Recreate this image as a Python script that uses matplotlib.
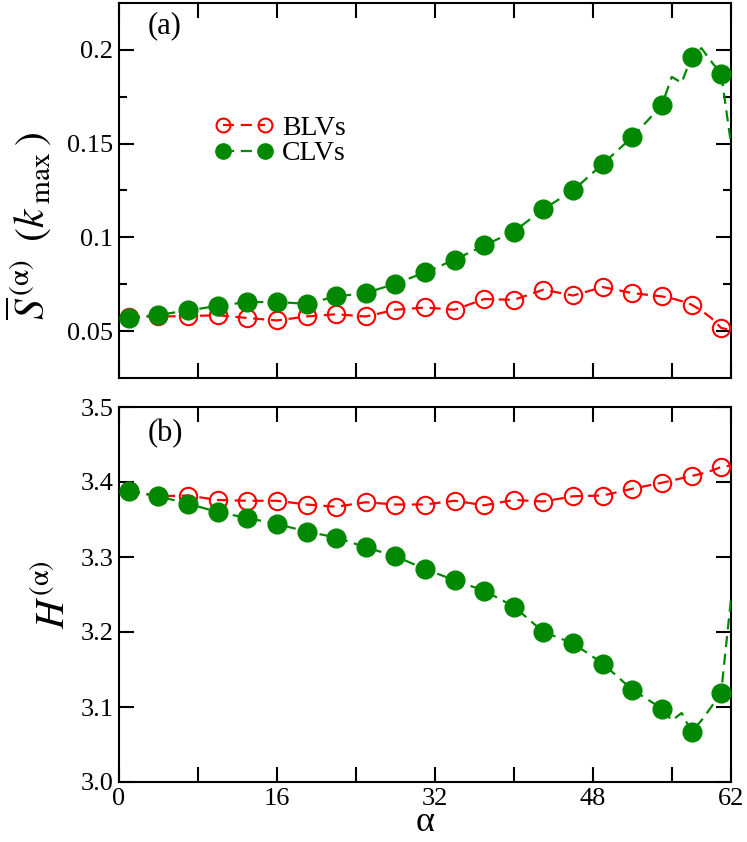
import numpy as np
import matplotlib
matplotlib.use("Agg")
import matplotlib.pyplot as plt

# -------------------------------------------------------
# Data
# -------------------------------------------------------

# marker positions (every third alpha)
alpha_m = [1, 4, 7, 10, 13, 16, 19, 22, 25, 28, 31, 34, 37, 40, 43, 46, 49, 52, 55, 58, 61]

# line positions: marker alphas plus the dense tail
alpha_line = [1, 4, 7, 10, 13, 16, 19, 22, 25, 28, 31, 34, 37, 40, 43, 46, 49, 52, 55,
              56, 57, 58, 59, 60, 61, 62]

# (a) S(k_max)
s_blv = [0.0575, 0.0578, 0.0580, 0.0585, 0.0570, 0.0557, 0.0578, 0.0590, 0.0578, 0.0614,
         0.0626, 0.0614, 0.0671, 0.0667, 0.0721, 0.0690, 0.0735, 0.0703, 0.0685,
         0.0675, 0.0660, 0.0641, 0.0610, 0.0570, 0.0517, 0.0505]
s_clv = [0.0570, 0.0587, 0.0610, 0.0635, 0.0655, 0.0655, 0.0646, 0.0685, 0.0703, 0.0753,
         0.0813, 0.0881, 0.0957, 0.1031, 0.1151, 0.1250, 0.1392, 0.1535, 0.1705,
         0.1856, 0.1825, 0.1964, 0.2009, 0.1938, 0.1872, 0.1500]

# (b) H
h_blv = [3.388, 3.381, 3.382, 3.376, 3.375, 3.375, 3.370, 3.367, 3.373, 3.370,
         3.370, 3.375, 3.369, 3.376, 3.374, 3.381, 3.382, 3.391, 3.399,
         3.402, 3.405, 3.408, 3.411, 3.415, 3.420, 3.422]
h_clv = [3.388, 3.381, 3.371, 3.360, 3.352, 3.344, 3.334, 3.326, 3.313, 3.301,
         3.284, 3.269, 3.255, 3.234, 3.200, 3.185, 3.158, 3.123, 3.098,
         3.082, 3.092, 3.067, 3.082, 3.100, 3.119, 3.244]

x_ticks = [0, 8, 16, 24, 32, 40, 48, 56, 62]
x_labels = ["0", "", "16", "", "32", "", "48", "", "62"]

RED = "#ff0000"
GREEN = "#008800"

# -------------------------------------------------------
# Style
# -------------------------------------------------------

plt.rcParams["font.family"] = ["Liberation Serif", "DejaVu Serif"]
plt.rcParams["mathtext.fontset"] = "stix"

fig = plt.figure(figsize=(7.47, 8.42), dpi=100)
ax1 = fig.add_axes([119 / 747, 1 - 378 / 842, 612 / 747, 375 / 842])
ax2 = fig.add_axes([119 / 747, 1 - 782 / 842, 612 / 747, 375 / 842])

a_line = np.array(alpha_line)
mask = np.isin(a_line, alpha_m)


def draw(ax, blv, clv, label=True):
    blv = np.array(blv)
    clv = np.array(clv)
    ax.plot(a_line, blv, color=RED, lw=1.6, dashes=(5, 3), zorder=2)
    ax.plot(a_line[mask], blv[mask], ls="none", marker="o", ms=12.5, mfc="none",
            mec=RED, mew=1.5, zorder=3)
    ax.plot(a_line, clv, color=GREEN, lw=1.6, dashes=(5, 3), zorder=4)
    ax.plot(a_line[mask], clv[mask], ls="none", marker="o", ms=13.5, mfc=GREEN,
            mec=GREEN, zorder=5)
    if label:
        # proxy handles for the legend (two markers joined by a dash)
        ax.plot([], [], color=RED, lw=1.6, dashes=(5, 3), marker="o", ms=10,
                mfc="none", mec=RED, mew=1.5, label="BLVs")
        ax.plot([], [], color=GREEN, lw=1.6, dashes=(5, 3), marker="o", ms=11,
                mfc=GREEN, mec=GREEN, label="CLVs")


def style(ax):
    ax.set_xlim(0, 62)
    ax.set_xticks(x_ticks)
    ax.tick_params(which="both", direction="in", top=True, right=True,
                   labelsize=19, width=1.5)
    ax.tick_params(which="major", length=10.5, pad=4)
    ax.tick_params(which="minor", length=5.5)
    for sp in ax.spines.values():
        sp.set_linewidth(1.5)


draw(ax1, s_blv, s_clv, label=True)
draw(ax2, h_blv, h_clv, label=False)
style(ax1)
style(ax2)

# top panel
ax1.set_ylim(0.025, 0.225)
ax1.set_yticks([0.05, 0.1, 0.15, 0.2])
ax1.set_yticklabels(["0.05", "0.1", "0.15", "0.2"])
ax1.set_yticks([0.075, 0.125, 0.175], minor=True)
ax1.set_xticklabels([])
ax1.set_ylabel(r"$\overline{S}^{\,(\mathrm{\alpha})}\;\;(k_{\;\mathrm{max}}\,)$",
               fontsize=30)
ax1.yaxis.set_label_coords(-0.108, 0.405)
ax1.text(0.046, 0.94, "(a)", transform=ax1.transAxes, fontsize=22,
         ha="left", va="center")
ax1.legend(loc="upper left", bbox_to_anchor=(0.125, 0.752), numpoints=2,
           frameon=False, fontsize=20, handlelength=2.1, handletextpad=0.32,
           labelspacing=0.0, borderpad=0.2)

# bottom panel
ax2.set_ylim(3.0, 3.5)
ax2.set_yticks([3.0, 3.1, 3.2, 3.3, 3.4, 3.5])
ax2.set_yticklabels(["3.0", "3.1", "3.2", "3.3", "3.4", "3.5"])
ax2.set_xticklabels(x_labels)
ax2.set_ylabel(r"$H^{(\mathrm{\alpha})}$", fontsize=29)
ax2.yaxis.set_label_coords(-0.075, 0.5)
ax2.set_xlabel("α", fontsize=26, labelpad=-2.5)
ax2.text(0.046, 0.93, "(b)", transform=ax2.transAxes, fontsize=22,
         ha="left", va="center")

fig.savefig("out.png", dpi=100)
